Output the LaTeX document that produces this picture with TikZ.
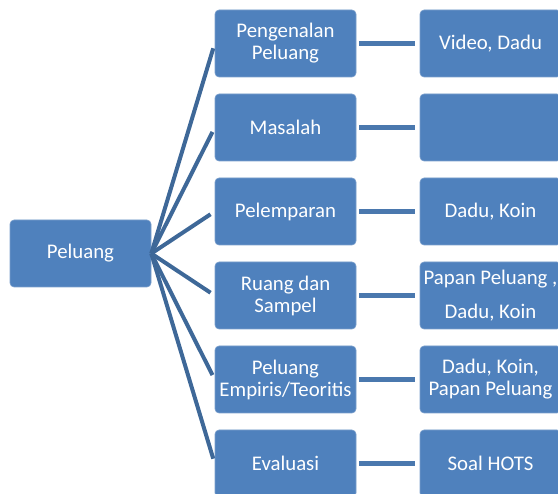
\documentclass[tikz,border=0pt]{standalone}
\usepackage{fontspec}
\setmainfont{Carlito}
\definecolor{boxfill}{HTML}{4F81BD}
\definecolor{boxedge}{HTML}{7A9FCC}
\definecolor{fanline}{HTML}{3E6898}
\definecolor{hline}{HTML}{4A78AE}
\tikzset{
  box/.style={rectangle, rounded corners=4pt, fill=boxfill, draw=boxedge, line width=0.6pt,
    minimum width=141pt, minimum height=67pt, inner sep=1pt, align=center,
    text=white, font=\fontsize{20.8}{22}\selectfont},
  fan/.style={draw=fanline, line width=4pt, shorten >=5pt},
  link/.style={draw=hline, line width=5pt, shorten <=3pt, shorten >=5pt}
}
\begin{document}
\begin{tikzpicture}[x=1pt,y=-1pt]
\useasboundingbox (0,0) rectangle (558,494);
\node[box] (root) at (80.5,253.5) {Peluang};
\node[box] (m1) at (285.5,43.5) {Pengenalan\\Peluang};
\node[box] (m2) at (285.5,127.5) {Masalah};
\node[box] (m3) at (285.5,211.5) {Pelemparan};
\node[box] (m4) at (285.5,295.5) {Ruang dan\\Sampel};
\node[box] (m5) at (285.5,379.5) {Peluang\\Empiris/Teoritis};
\node[box] (m6) at (285.5,463.5) {Evaluasi};
\node[box] (r1) at (490.5,43.5) {Video, Dadu};
\node[box] (r2) at (490.5,127.5) {};
\node[box] (r3) at (490.5,211.5) {Dadu, Koin};
\node[box, font=\fontsize{20.8}{33.5}\selectfont] (r4) at (490.5,295.5) {Papan Peluang ,\\Dadu, Koin};
\node[box] (r5) at (490.5,379.5) {Dadu, Koin,\\Papan Peluang};
\node[box] (r6) at (490.5,463.5) {Soal HOTS};
\foreach \m in {m1,m2,m3,m4,m5,m6}{
  \draw[fan] (root.east) -- (\m.west);
}
\foreach \a/\b in {m1/r1,m2/r2,m3/r3,m4/r4,m5/r5,m6/r6}{
  \draw[link] (\a.east) -- (\b.west);
}
\end{tikzpicture}
\end{document}
